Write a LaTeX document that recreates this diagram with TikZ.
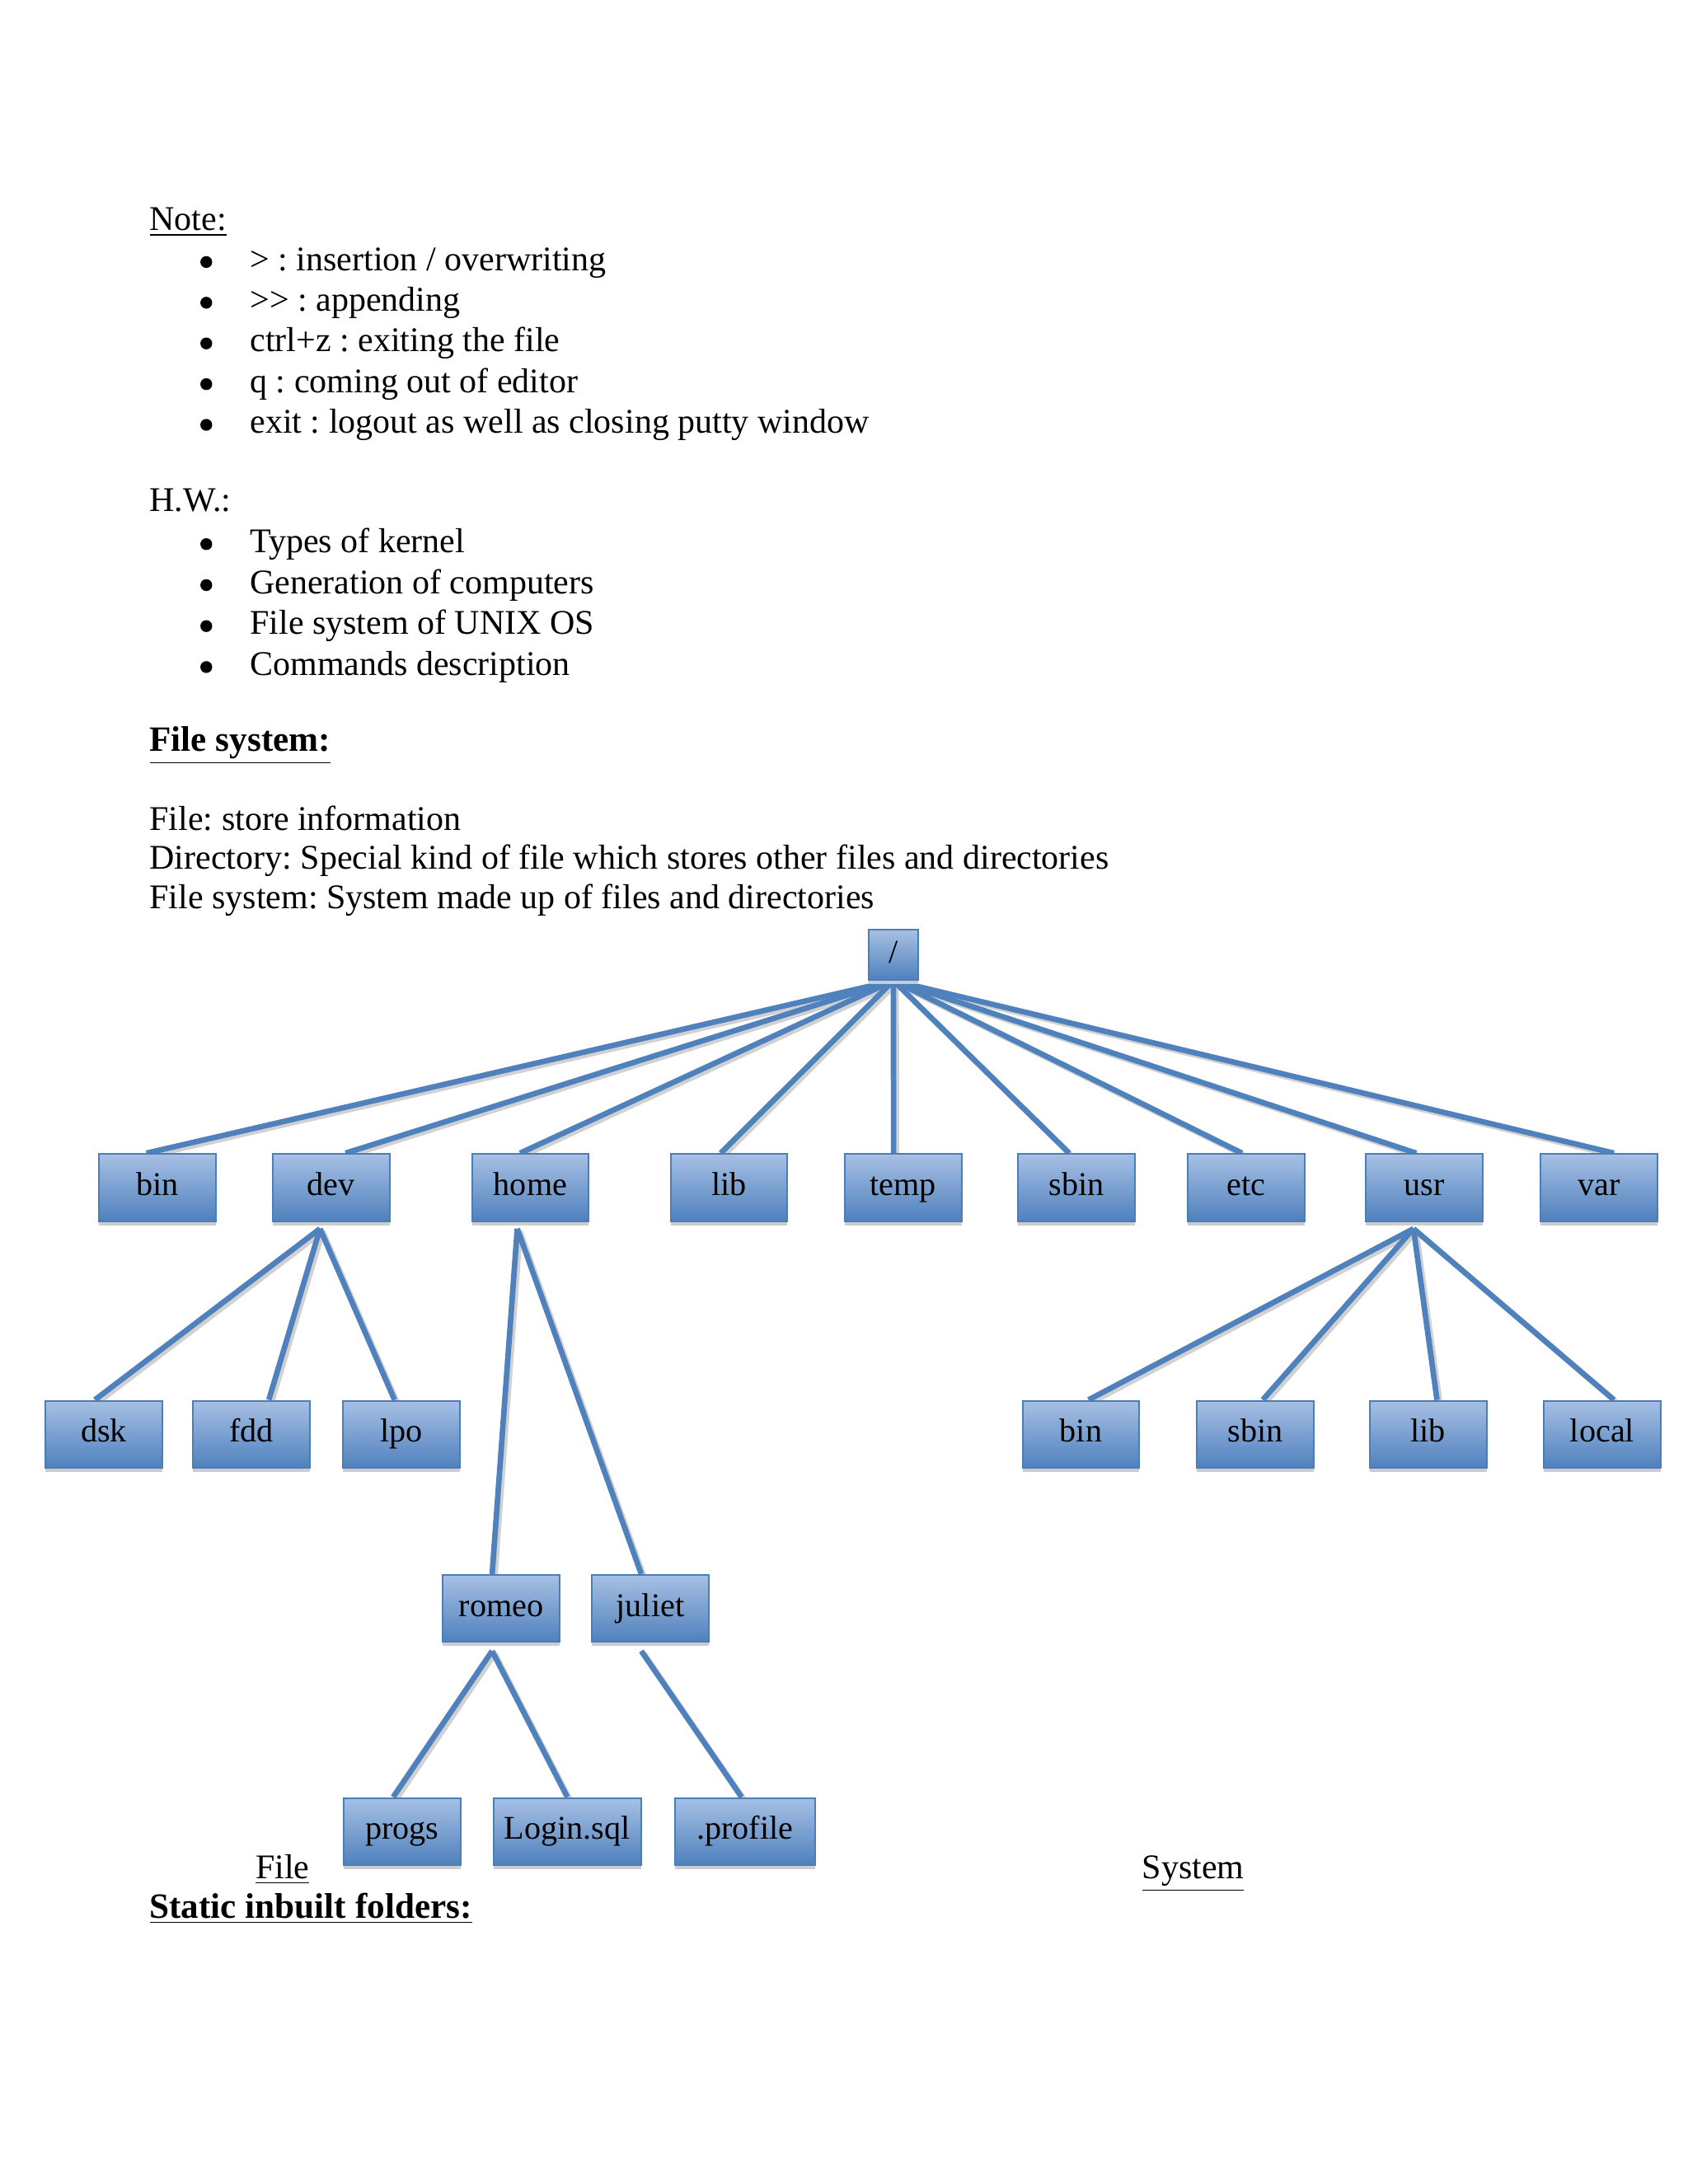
\documentclass[tikz,border=0pt]{standalone}
\usepackage{fontspec}
\setmainfont{Liberation Serif}
\usetikzlibrary{shadows,backgrounds}
\frenchspacing

\definecolor{boxtop}{RGB}{167,192,228}
\definecolor{boxbot}{RGB}{79,129,189}
\definecolor{boxline}{RGB}{74,126,187}
\definecolor{linkblue}{RGB}{79,129,189}

\tikzset{
  dirbox/.style={draw=boxline, line width=0.6pt, top color=boxtop, bottom color=boxbot,
    minimum width=42.4pt, minimum height=24.3pt, inner sep=0pt, font=\fontsize{12}{14}\selectfont,
    text height=8.2pt, text depth=2.4pt,
    drop shadow={shadow xshift=0pt, shadow yshift=-1.5pt, fill=black!20, opacity=1}},
  link/.style={draw=linkblue, line width=2pt},
  linkshadow/.style={draw=black!18, line width=2pt, transform canvas={xshift=1pt, yshift=-1pt}},
  txt/.style={anchor=base west, inner sep=0pt, font=\fontsize{12.55}{14}\selectfont},
  bold/.style={txt, font=\fontsize{12.9}{14}\selectfont\bfseries},
  bulletdot/.style={circle, fill=black, inner sep=0pt, minimum size=4.3pt},
}

\begin{document}
\begin{tikzpicture}[x=0.50537pt, y=-0.50537pt]
\useasboundingbox (0,0) rectangle (1211,1567);

% notes at the top of the page
\node[txt] (note) at (107,165.3) {\underline{Note:}};
\foreach \t [count=\i] in {> : insertion / overwriting, {>}{>} : appending, ctrl+z : exiting the file,
    q : coming out of editor, exit : logout as well as closing putty window}
  {\node[bulletdot] (nb\i) at (148,{158.8+29.2*\i}) {};
   \node[txt] (nt\i) at (179,{164.8+29.2*\i}) {\t};}

\node[txt] (hw) at (107,367) {H.W.:};
\foreach \t [count=\i] in {Types of kernel, Generation of computers, File system of UNIX OS,
    Commands description}
  {\node[bulletdot] (hb\i) at (148,{361+29.4*\i}) {};
   \node[txt] (ht\i) at (179,{367+29.4*\i}) {\t};}

\node[bold] (fs) at (107,539) {\underline{File system:}};
\node[txt] (def1) at (107,595.5) {File: store information};
\node[txt] (def2) at (107,623.7) {Directory: Special kind of file which stores other files and directories};
\node[txt] (def3) at (107,652) {File system: System made up of files and directories};

% the tree
\node[dirbox, minimum width=18.2pt, minimum height=18.2pt] (root) at (641,685) {/};

\node[dirbox] (bin)  at (113,852)   {bin};
\node[dirbox] (dev)  at (237.5,852) {dev};
\node[dirbox] (home) at (380.5,852) {home};
\node[dirbox] (lib)  at (523,852)   {lib};
\node[dirbox] (temp) at (648,852)   {temp};
\node[dirbox] (sbin) at (772.5,852) {sbin};
\node[dirbox] (etc)  at (894,852)   {etc};
\node[dirbox] (usr)  at (1022,852)  {usr};
\node[dirbox] (var)  at (1147,852)  {var};

\node[dirbox] (dsk)   at (74.5,1029)   {dsk};
\node[dirbox] (fdd)   at (180.5,1029)  {fdd};
\node[dirbox] (lpo)   at (288,1029)    {lpo};
\node[dirbox] (ubin)  at (775.5,1029)  {bin};
\node[dirbox] (usbin) at (900.5,1029)  {sbin};
\node[dirbox] (ulib)  at (1024.5,1029) {lib};
\node[dirbox] (local) at (1149.5,1029) {local};

\node[dirbox] (romeo)  at (359.5,1154) {romeo};
\node[dirbox] (juliet) at (466.5,1154) {juliet};

\node[dirbox] (progs)   at (288.5,1314) {progs};
\node[dirbox, minimum width=53.6pt] (login) at (407,1314) {Login.sql};
\node[dirbox, minimum width=51pt] (profile) at (534.5,1314) {.profile};

\begin{scope}[on background layer]
  \foreach \s in {linkshadow, link} {
    \foreach \c/\dx in {bin/-4, dev/5.25, home/-3.75, lib/-3, temp/-3.5, sbin/-2.75, etc/-1.5, usr/-3, var/5.5}
      \draw[\s] (root.south) -- ([xshift=\dx pt]\c.north);
    \foreach \c/\dx in {dsk/-3.25, fdd/6.25, lpo/-2.5}
      \draw[\s] ([xshift=-4pt, yshift=-2.5pt]dev.south) -- ([xshift=\dx pt]\c.north);
    \foreach \c in {romeo, juliet}
      \draw[\s] ([xshift=-4.75pt, yshift=-2.5pt]home.south) -- ([xshift=-3.25pt]\c.north);
    \foreach \c/\dx in {ubin/2.75, usbin/2.75, ulib/3.25, local/4.25}
      \draw[\s] ([xshift=-4pt, yshift=-2.5pt]usr.south) -- ([xshift=\dx pt]\c.north);
    \foreach \c/\dx in {progs/-3.25, login/0}
      \draw[\s] ([xshift=-3.25pt, yshift=-3pt]romeo.south) -- ([xshift=\dx pt]\c.north);
    \draw[\s] ([xshift=-3.25pt, yshift=-3pt]juliet.south) -- ([xshift=-1.25pt]profile.north);
  }
\end{scope}

% captions below the tree
\node[txt] (capfile) at (183,1348) {\underline{File}};
\node[txt] (capsys) at (819,1348) {\underline{System}};
\node[bold] (static) at (107,1376) {\underline{Static inbuilt folders:}};
\end{tikzpicture}
\end{document}
